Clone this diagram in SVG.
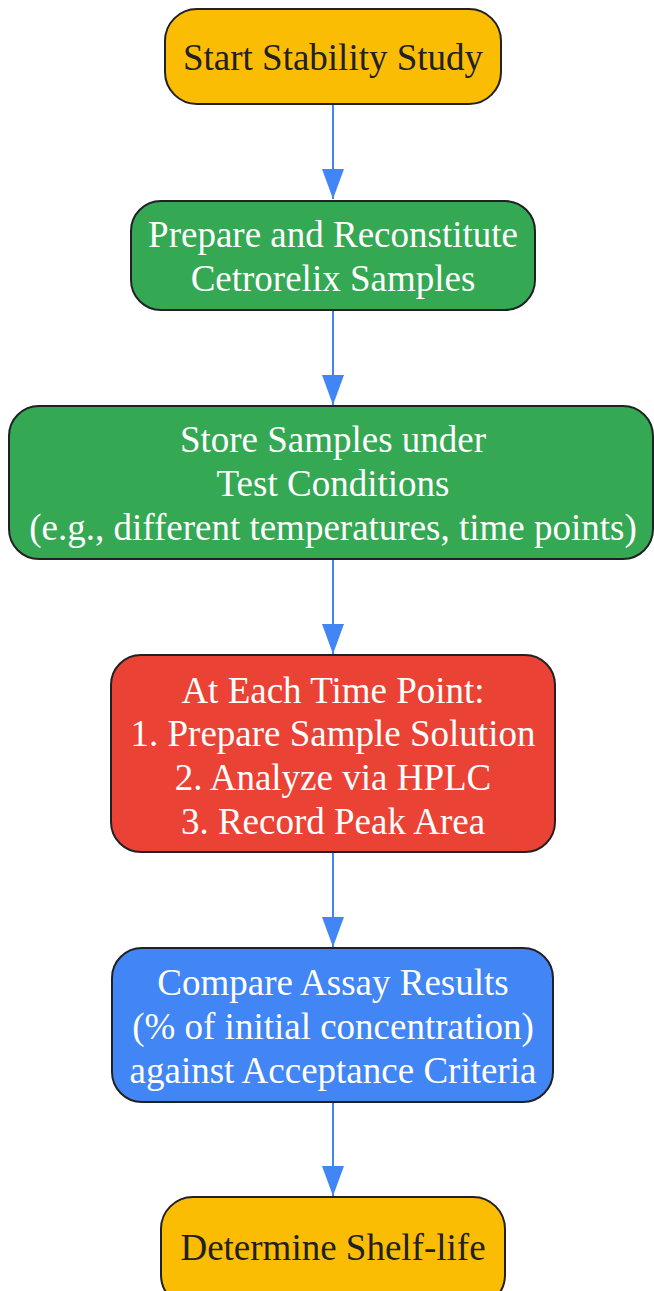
<svg xmlns="http://www.w3.org/2000/svg" width="654" height="1291" viewBox="0 0 654 1291">
<style>
.n{stroke:#202124;stroke-width:2}
.y{fill:#FBBC04}.g{fill:#34A853}.r{fill:#EA4335}.b{fill:#4285F4}
text{font-family:"Liberation Serif","Times New Roman",serif;font-size:37px;text-anchor:middle}
.dk{fill:#202124}.wt{fill:#FFFFFF}
.e{stroke:#4285F4;stroke-width:2;fill:none}
</style>
<defs>
<marker id="ah" markerUnits="userSpaceOnUse" markerWidth="30" markerHeight="22" refX="30" refY="11" orient="auto" viewBox="0 0 30 22">
<path d="M0,0 L30,11 L0,22 Z" fill="#4285F4"/>
</marker>
</defs>
<g id="edges">
<line class="e" x1="333" y1="105" x2="333" y2="199" marker-end="url(#ah)"/>
<line class="e" x1="333" y1="311" x2="333" y2="405" marker-end="url(#ah)"/>
<line class="e" x1="333" y1="560" x2="333" y2="654" marker-end="url(#ah)"/>
<line class="e" x1="333" y1="853" x2="333" y2="947" marker-end="url(#ah)"/>
<line class="e" x1="333" y1="1103" x2="333" y2="1196" marker-end="url(#ah)"/>
</g>
<g id="start">
<rect class="n y" x="165" y="9" width="336" height="95" rx="32"/>
<text class="dk" x="333" y="70">Start Stability Study</text>
</g>
<g id="prepare">
<rect class="n g" x="131" y="201" width="404" height="109" rx="30"/>
<text class="wt" x="333" y="247">Prepare and Reconstitute</text>
<text class="wt" x="333" y="291">Cetrorelix Samples</text>
</g>
<g id="store">
<rect class="n g" x="9" y="406" width="644" height="153" rx="30"/>
<text class="wt" x="333" y="452">Store Samples under</text>
<text class="wt" x="333" y="496">Test Conditions</text>
<text class="wt" x="333" y="540">(e.g., different temperatures, time points)</text>
</g>
<g id="timepoint">
<rect class="n r" x="111" y="655" width="444" height="197" rx="30"/>
<text class="wt" x="333" y="703">At Each Time Point:</text>
<text class="wt" x="333" y="746">1. Prepare Sample Solution</text>
<text class="wt" x="333" y="790">2. Analyze via HPLC</text>
<text class="wt" x="333" y="834">3. Record Peak Area</text>
</g>
<g id="compare">
<rect class="n b" x="112" y="948" width="441" height="154" rx="30"/>
<text class="wt" x="333" y="995">Compare Assay Results</text>
<text class="wt" x="333" y="1039">(% of initial concentration)</text>
<text class="wt" x="333" y="1083">against Acceptance Criteria</text>
</g>
<g id="shelflife">
<rect class="n y" x="161" y="1197" width="344" height="110" rx="32"/>
<text class="dk" x="333" y="1260">Determine Shelf-life</text>
</g>
</svg>
